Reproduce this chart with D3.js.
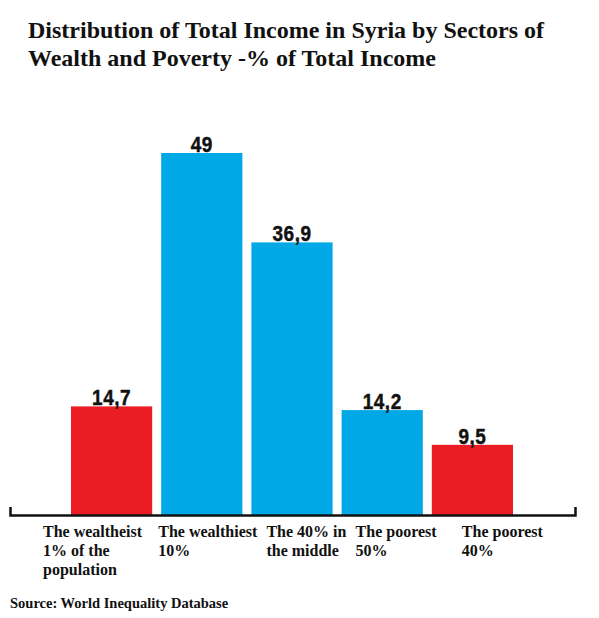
<!DOCTYPE html>
<html>
<head>
<meta charset="utf-8">
<script src="https://cdn.jsdelivr.net/npm/d3@7"></script>
<style>
  body { margin: 0; background: #fff; }
  svg { display: block; }
</style>
</head>
<body>
<svg id="chart" width="599" height="618"></svg>
<script>
// data
const categories = ['1%', '10%', 'middle40', 'poor50', 'poor40']
const values = [14.7, 49, 36.9, 14.2, 9.5]
const valueLabels = ['14,7', '49', '36,9', '14,2', '9,5']
const categoryLabels = [
  ['The wealtheist', '1% of the', 'population'],
  ['The wealthiest', '10%'],
  ['The 40% in', 'the middle'],
  ['The poorest', '50%'],
  ['The poorest', '40%']
]
const barColors = ['#ec1c24', '#00a8e6', '#00a8e6', '#00a8e6', '#ec1c24']
const titleLines = [
  'Distribution of Total Income in Syria by Sectors of',
  'Wealth and Poverty -% of Total Income'
]
const source = 'Source: World Inequality Database'

// label nudges (layout only), relative to each band start
const labelDx = [-28, -3, 15, 14, 30]

const baseY = 515

let svg = d3.select('#chart')

let x = d3.scaleBand()
  .domain(categories)
  .range([71, 513])
  .paddingInner(0.1)
  .paddingOuter(0)

let y = d3.scaleLinear()
  .domain([0, d3.max(values)])
  .range([baseY, 153])

let rows = categories.map((c, i) => ({cat: c, value: values[i], label: valueLabels[i], color: barColors[i], lines: categoryLabels[i], dx: labelDx[i]}))

// title
svg.append('g')
  .selectAll('text')
  .data(titleLines)
  .join('text')
  .attr('x', 28)
  .attr('y', (d, i) => 38 + i * 28)
  .attr('font-family', '"Liberation Serif", "Times New Roman", serif')
  .attr('font-weight', 'bold')
  .attr('font-size', 24)
  .attr('fill', '#111')
  .text(d => d)

// bars
svg.append('g')
  .selectAll('rect')
  .data(rows)
  .join('rect')
  .attr('x', d => x(d.cat))
  .attr('y', d => y(d.value))
  .attr('width', x.bandwidth())
  .attr('height', d => y(0) - y(d.value))
  .attr('fill', d => d.color)

// value labels
svg.append('g')
  .selectAll('text')
  .data(rows)
  .join('text')
  .attr('transform', d => `translate(${x(d.cat) + x.bandwidth() / 2},${y(d.value) - 1}) scale(1,1.12)`)
  .attr('text-anchor', 'middle')
  .attr('font-family', '"Liberation Sans", Arial, sans-serif')
  .attr('font-weight', 'bold')
  .attr('font-size', 19)
  .attr('letter-spacing', 0.5)
  .attr('fill', '#111')
  .attr('stroke', '#111')
  .attr('stroke-width', 0.4)
  .text(d => d.label)

// axis line with upturned ends
let axisScale = d3.scaleLinear().domain([0, 1]).range([10, 575])
svg.append('g')
  .attr('transform', `translate(0,${baseY})`)
  .call(d3.axisBottom(axisScale).tickValues([]).tickSizeOuter(-8))
  .call(g => g.select('.domain').attr('stroke', '#111').attr('stroke-width', 2.5))

// category labels
let cl = svg.append('g')
  .selectAll('text')
  .data(rows)
  .join('text')
  .attr('x', d => x(d.cat) + d.dx)
  .attr('y', 537)
  .attr('font-family', '"Liberation Serif", "Times New Roman", serif')
  .attr('font-weight', 'bold')
  .attr('font-size', 16)
  .attr('fill', '#111')

cl.selectAll('tspan')
  .data(d => d.lines.map(l => ({l, x: x(d.cat) + d.dx})))
  .join('tspan')
  .attr('x', d => d.x)
  .attr('dy', (d, i) => i ? 19 : 0)
  .text(d => d.l)

// source
svg.append('text')
  .attr('x', 10)
  .attr('y', 608)
  .attr('font-family', '"Liberation Serif", "Times New Roman", serif')
  .attr('font-weight', 'bold')
  .attr('font-size', 14.5)
  .attr('fill', '#111')
  .text(source)
</script>
</body>
</html>
